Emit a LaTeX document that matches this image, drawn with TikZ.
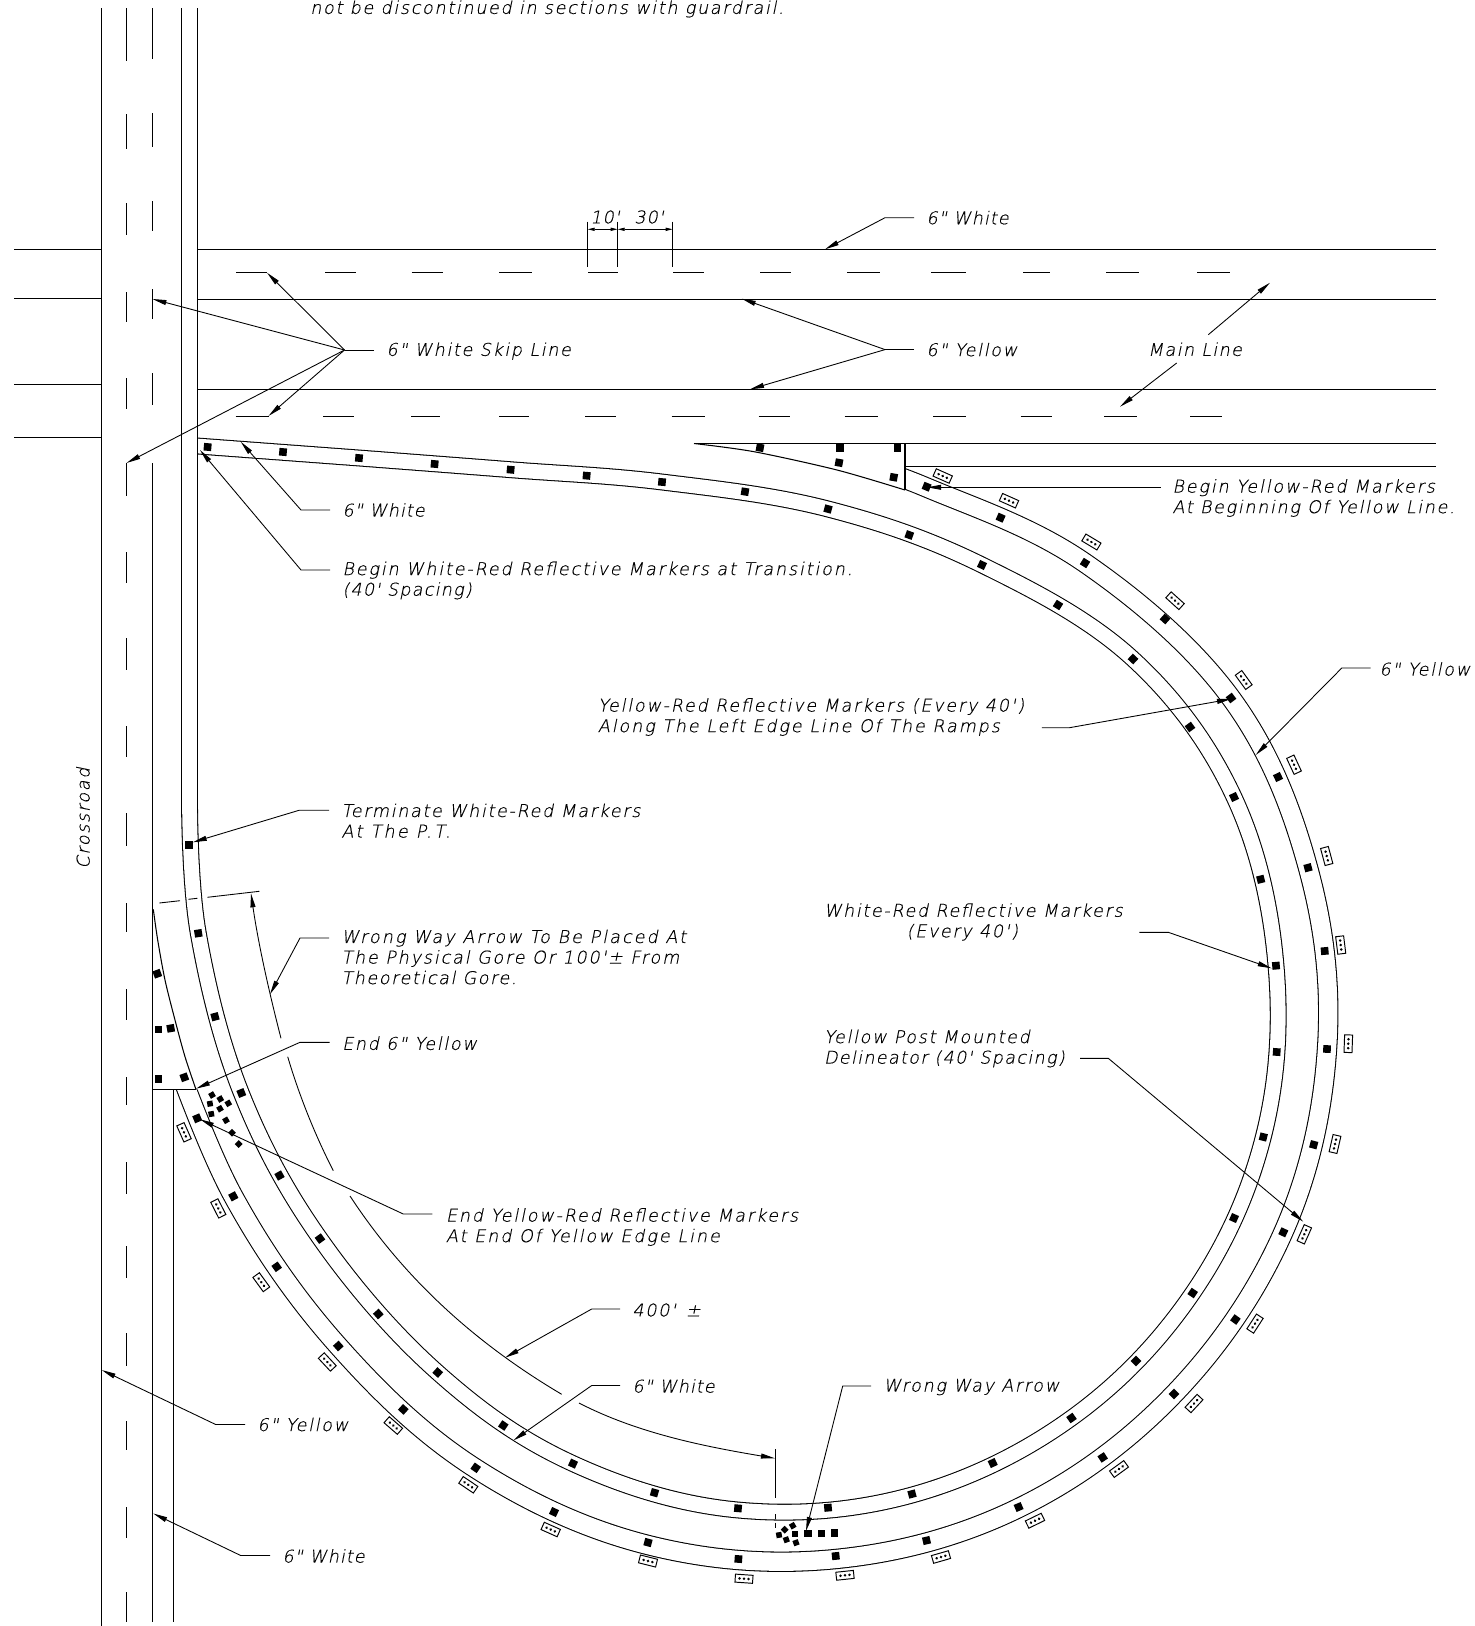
\documentclass[tikz,border=0pt]{standalone}
\usepackage{fontspec}
\usetikzlibrary{arrows.meta}
\newfontfamily\cadfont[FakeSlant=0.2,FakeBold=0.3,LetterSpace=9.5]{DejaVu Sans ExtraLight}
\newfontfamily\cadtight[FakeSlant=0.2,FakeBold=0.3,LetterSpace=6]{DejaVu Sans ExtraLight}
\def\ls#1{\addfontfeature{LetterSpace=#1}}
\def\reflmark(#1,#2,#3){\fill[shift={(#1,#2)},rotate=#3] (-3.8,-3.8) rectangle (3.8,3.8);}
\def\smallmark(#1,#2,#3){\fill[shift={(#1,#2)},rotate=#3] (-2.8,-2.8) rectangle (2.8,2.8);}
\def\postmark(#1,#2,#3){\begin{scope}[shift={(#1,#2)},rotate=#3]
	\draw[line width=0.55pt] (-8.8,-4) rectangle (8.8,4);
	\fill (-4.5,0) circle (1.4); \fill (0,0) circle (1.4); \fill (4.5,0) circle (1.4);
\end{scope}}
\tikzset{
	road/.style={line width=0.6pt},
	inpair/.style={line width=0.6pt,double=white,double distance=8.4pt},
	outpair/.style={line width=0.6pt,double=white,double distance=10.4pt},
	thinline/.style={line width=0.5pt},
	leader/.style={line width=0.5pt,-{Triangle[length=8pt,width=2.8pt]}},
	dimtick/.style={line width=0.5pt,{Triangle[length=4pt,width=1.8pt]}-{Triangle[length=4pt,width=1.8pt]}},
	lbl/.style={anchor=west,inner ysep=0pt,inner xsep=6.9pt,align=left,font=\cadfont\fontsize{10}{11.7}\selectfont},
	lbltight/.style={lbl,font=\cadtight\fontsize{10}{11.7}\selectfont},
	note/.style={inner sep=0pt,font=\cadfont\fontsize{10}{11.7}\selectfont}
}
\begin{document}
\begin{tikzpicture}[x=0.02cm,y=-0.02cm]
			\useasboundingbox (0,0) rectangle (1474,1626);
			%%%%% RAMPS %%%%%
			
			\draw[inpair] (189.5,8) -- (189.5,800) -- plot[smooth,tension=0.62] coordinates {(189.5,800) (198.3,933.3) (241.3,1093) (320,1238.6) (437.7,1372.5) (573,1463.6) (738,1510) (912,1495) (1071.5,1418) (1192.7,1293) (1263.3,1137) (1276,965.7) (1234,797) (1133,659) (982,565) (828,509) (662,482) (510.6,469.7) (359,458)} -- (197.5,446);
			
			\begin{scope}
				\clip (905,460) -- (1474,460) -- (1474,1626) -- (150,1626) -- (150,1089.3) -- (905,1089.3) -- cycle;
				\draw[outpair] plot[smooth,tension=0.62] coordinates {(810,447) (926.6,487.5) (1085,563) (1231,698) (1308,867.7) (1327,1049) (1283.3,1232.3) (1174,1394) (1018.6,1508) (835.7,1559) (648,1545) (475.7,1468.5) (338.3,1346) (233.3,1196.3) (165,1030)};
			\end{scope}
			
			\draw[road] plot[smooth] coordinates {(153.3,909.3) (157.7,940) (165,980) (175,1020) (185,1056.7) (196,1089.5)};
			\draw[road] plot[smooth] coordinates {(694,443.5) (754,451.7) (837,470) (905,490)};
			
			%%%%% ROADS %%%%%
			
			\draw[road] (101.5,8) -- (101.5,1626);
			\draw[road] (197.5,430) -- (197.5,460);
			\draw[road] (152.5,463) -- (152.5,1622);
			\draw[road] (173.5,1089.5) -- (173.5,1622);
			\draw[road] (153.3,1089.5) -- (196,1089.5);
			\draw[road] (905,443.5) -- (905,490);
			\draw[road] (694,443.5) -- (1436,443.5);
			\draw[road] (905,466.5) -- (1436,466.5);
			
			\draw[road] (197.5,249.5) -- (1436,249.5);
			\draw[road] (197.5,299.5) -- (1436,299.5);
			\draw[road] (197.5,389.5) -- (1436,389.5);
			\draw[road] (14,249.5) -- (101.5,249.5);
			\draw[road] (14,298.5) -- (101.5,298.5);
			\draw[road] (14,384.5) -- (101.5,384.5);
			\draw[road] (14,437.5) -- (101.5,437.5);
			
			\foreach \a/\b in {8/61,114/149,203/235,292/322,378/409,463/496,552/583,638/670,726/757,813/846,903/932,989/1020,1077/1105,1162/1194,1246/1278,1333/1366,1421/1450,1507/1538,1592/1622}
				\draw[road] (126.5,\a) -- (126.5,\b);
			\foreach \a/\b in {8/59,113/147,201/231,289/319,373/405}
				\draw[road] (152.5,\a) -- (152.5,\b);
			\foreach \a/\b in {236/267,325/356,411.5/443,499/532,588/617.5,673/703.6,760/791,847/880,931/966,1023/1050,1106/1138.7,1197/1229.7}
				\draw[road] (\a,272.5) -- (\b,272.5);
			\foreach \a/\b in {235.5/268.5,323/354.4,411/440,499/529,585/616,671.5/705,758.6/790,844.7/878,933/966,1020.5/1052,1104/1136.7,1190/1221.7}
				\draw[road] (\a,416.5) -- (\b,416.5);
			
			%%%%% MARKERS %%%%%
			
			\foreach \x/\y/\r in {189/845/0,198.3/933.3/9,215/1016.7/15,241.3/1093/22,279.5/1175.5/29,320/1238.6/36,378.3/1314/42,437.7/1372.5/48,503.3/1425.5/-34,573/1463.6/-25,654.5/1492.7/-16,738/1508.3/-5,828/1507.7/5,912/1494/15,992.7/1463/25,1071.5/1418/35,1136/1361/46,1192.7/1293/56,1234/1218/66,1263.3/1137/76,1276.7/1052/86,1276/965.7/95,1260.7/879.3/104,1234/797/115,1190/727/126,1133/659/137,1058/605/148,982/565/155,909.3/535/160,828/509/165,745/491.7/171,662/482/-5,586.6/475.7/-5,510.6/469.7/-5,434.6/464/-5,359/458/-5,283/452/-5,207.6/447/-5}
				{\reflmark(\x,\y,\r)}
			\foreach \x/\y/\r in {926.6/486.7/-22,1000.6/517.7/-24,1085/563/-32,1165/619/-42,1231/698/-53,1278/777/-64,1308/867.7/-75,1324.7/951/-85,1327/1049/88,1313.7/1144.7/75,1283.3/1232.3/65,1235.4/1319.5/54,1174/1394/44,1102.7/1457.4/33,1018.6/1507/23,926.5/1540.5/13,835.7/1556/6,738.4/1559/-4,648/1542.5/-15,554/1512/-25,475.7/1467.8/-35,403.3/1409.4/-42,338.3/1346/-48,276.7/1266.8/-55,233.3/1196.3/-62,197.2/1118.3/-67}
				{\reflmark(\x,\y,\r)}
			\foreach \x/\y/\r in {157.3/973.7/20,158.3/1029.3/0,170.7/1028.3/10,158.3/1079/0,184.3/1077.3/20,760/447.7/-10,840/447.7/0,897.3/447.7/0,839/462.7/-10,893.7/477.3/-10,807.7/1533.3/0,821.3/1533.3/0,834.3/1532.7/0}
				{\reflmark(\x,\y,\r)}
			\foreach \x/\y/\r in {212/1095/30,220.3/1099/30,228.3/1103.3/30,210/1103.7/10,220/1108.7/30,211.3/1114/10,226/1120.3/30,232/1132.7/45,238.7/1144/45,779/1535/10,784.7/1529.7/45,792.7/1525.7/30,795/1533.7/0,786.3/1539.7/20,796/1542.7/20}
				{\smallmark(\x,\y,\r)}
			\foreach \x/\y/\r in {942.7/476/-24,1009/500.7/-24,1091.4/542/-31,1175/600.7/-42,1243.7/680/-54,1294/764.7/-65,1326.7/856/-75,1340.7/945/-83,1348.3/1043.7/88,1335/1144/77,1304.3/1234.3/66,1255/1323.6/57,1194/1403.5/47,1119/1469/36,1035/1520.7/26,941/1557/16,845/1575.3/6,744/1578.7/-4,648/1561/-14,550.7/1529.5/-24,468.3/1484.8/-34,393.3/1425.5/-41,327.3/1362/-47,261.3/1282.2/-54,218.3/1208.4/-63,184/1132.3/-66}
				{\postmark(\x,\y,\r)}
			
			%%%%% DIMENSIONS %%%%%
			
			\draw[thinline] (587.7,221.7) -- (587.7,266.7);
			\draw[thinline] (617.7,221.7) -- (617.7,266.7);
			\draw[thinline] (672.7,221.7) -- (672.7,266.7);
			\draw[dimtick] (587.7,229.3) -- (617.7,229.3);
			\draw[dimtick] (617.7,229.3) -- (672.7,229.3);
			\node[note,font=\cadtight\fontsize{10}{11.7}\selectfont] (dimten) at (605,217) {10'};
			\node[note,font=\cadtight\fontsize{10}{11.7}\selectfont] (dimthirty) at (649,217) {30'};
			
			\draw[thinline] (159.3,903) -- (180,900.7);
			\draw[thinline] (188.3,899.3) -- (197.3,898.3);
			\draw[thinline] (207.3,897.3) -- (259.3,891.3);
			\draw[thinline] (775.3,1449.3) -- (775.3,1497.7);
			\draw[thinline] (775.3,1514.3) -- (775.3,1519.3);
			\draw[thinline] (775.3,1522.7) -- (775.3,1528.3);
			
			\draw[leader] (281,1038.3) .. controls (268.7,990.7) and (258,942) .. (251,893.3);
			\draw[thinline] (287.7,1056.7) .. controls (299,1095) and (315,1135) .. (333.3,1170.7);
			\draw[thinline] (350,1196) .. controls (405,1280) and (476.7,1344) .. (561.7,1394.3);
			\draw[leader] (579,1403) .. controls (639,1434) and (708,1447) .. (775,1458.3);
			
			%%%%% LABELS %%%%%
			
			\node[note,anchor=west] (topnote) at (310,9) {not be discontinued in sections with guardrail.};
			\node[note,rotate=90] (crossroad) at (83,818) {Crossroad};
			
			\node[lbltight] (whitetop) at (914,217.7) {6" White};
			\coordinate (whitetopbend) at (885,217.7);
			\coordinate (whitetoptip) at (825,249.3);
			\draw[leader] (whitetop.west) -- (whitetopbend) -- (whitetoptip);
			
			\node[lbl] (skipline) at (374,351) {6" White Skip Line};
			\coordinate (skipbend) at (344.5,350);
			\coordinate (skiptipa) at (267,272.7);
			\coordinate (skiptipb) at (152.4,299);
			\coordinate (skiptipc) at (268.5,416);
			\coordinate (skiptipd) at (126.5,463);
			\draw[thinline] (374,350) -- (skipbend);
			\draw[leader] (skipbend) -- (skiptipa);
			\draw[leader] (skipbend) -- (skiptipb);
			\draw[leader] (skipbend) -- (skiptipc);
			\draw[leader] (skipbend) -- (skiptipd);
			
			\node[lbl] (yellowmid) at (914,349.6) {6" Yellow};
			\coordinate (yellowbend) at (885,349.6);
			\coordinate (yellowtipa) at (741.7,298.7);
			\coordinate (yellowtipb) at (750,389.3);
			\draw[thinline] (yellowmid.west) -- (yellowbend);
			\draw[leader] (yellowbend) -- (yellowtipa);
			\draw[leader] (yellowbend) -- (yellowtipb);
			
			\node[note] (mainline) at (1195,349.3) {\ls{8}Main Line};
			\coordinate (mainfroma) at (1208.3,334.7);
			\coordinate (maintipa) at (1270,282.7);
			\coordinate (mainfromb) at (1176.7,363);
			\coordinate (maintipb) at (1120,406.7);
			\draw[leader] (mainfroma) -- (maintipa);
			\draw[leader] (mainfromb) -- (maintipb);
			
			\node[lbltight] (whitetail) at (330,510) {6" White};
			\coordinate (whitetailbend) at (301,510);
			\coordinate (whitetailtip) at (240.7,441.7);
			\draw[leader] (whitetail.west) -- (whitetailbend) -- (whitetailtip);
			
			\node[lbl] (beginwhite) at (330,580.5) {\ls{10.5}Begin White-Red Reflective Markers at Transition.\\\ls{7}(40' Spacing)};
			\coordinate (beginwhitefrom) at (330,570);
			\coordinate (beginwhitebend) at (301,570);
			\coordinate (beginwhitetip) at (200,450);
			\draw[leader] (beginwhitefrom) -- (beginwhitebend) -- (beginwhitetip);
			
			\node[lbl] (beginyellow) at (1160,498) {\ls{10.5}Begin Yellow-Red Markers\\\ls{9.5}At Beginning Of Yellow Line.};
			\coordinate (beginyellowfrom) at (1160.8,487.3);
			\coordinate (beginyellowtip) at (927,487.3);
			\draw[leader] (beginyellowfrom) -- (beginyellowtip);
			
			\node[lbl] (yellowright) at (1367,669) {6" Yellow};
			\coordinate (yellowrightbend) at (1341.8,668);
			\coordinate (yellowrighttip) at (1255.7,755);
			\draw[leader] (1370.5,668) -- (yellowrightbend) -- (yellowrighttip);
			
			\node[lbl,inner xsep=0pt] (alongleft) at (597.5,717) {\ls{10.2}Yellow-Red Reflective Markers (Every 40')\\\ls{10.8}Along The Left Edge Line Of The Ramps};
			\coordinate (alongleftfrom) at (1041.8,727.7);
			\coordinate (alongleftbend) at (1069.5,727.7);
			\coordinate (alonglefttip) at (1231,699);
			\draw[leader] (alongleftfrom) -- (alongleftbend) -- (alonglefttip);
			
			\node[lbl] (terminate) at (329,820.7) {Terminate White-Red Markers\\\ls{13.5}At The P.T.};
			\coordinate (terminatefrom) at (329,810.3);
			\coordinate (terminatebend) at (299,810.3);
			\coordinate (terminatetip) at (192.7,842.3);
			\draw[leader] (terminatefrom) -- (terminatebend) -- (terminatetip);
			
			\node[lbl] (wrongplaced) at (329,957) {\ls{11.7}Wrong Way Arrow To Be Placed At\\\ls{10.5}The Physical Gore Or 100'± From\\\ls{9}Theoretical Gore.};
			\coordinate (wrongplacedfrom) at (329,938);
			\coordinate (wrongplacedbend) at (300,938);
			\coordinate (wrongplacedtip) at (270,994.3);
			\draw[leader] (wrongplacedfrom) -- (wrongplacedbend) -- (wrongplacedtip);
			
			\node[lbl] (endyellow) at (329.7,1043.3) {End 6" Yellow};
			\coordinate (endyellowbend) at (300,1042.3);
			\coordinate (endyellowtip) at (196,1088.7);
			\draw[leader] (329.7,1042.3) -- (endyellowbend) -- (endyellowtip);
			
			\node[lbl,inner xsep=0pt] (whitered) at (823.7,922) {White-Red Reflective Markers\\\hspace*{47pt}(Every 40')};
			\coordinate (whiteredfrom) at (1139.3,932.3);
			\coordinate (whiteredbend) at (1168.3,932.3);
			\coordinate (whiteredtip) at (1271.7,968.3);
			\draw[leader] (whiteredfrom) -- (whiteredbend) -- (whiteredtip);
			
			\node[lbl,inner xsep=0pt] (postmounted) at (823.7,1048.5) {Yellow Post Mounted\\\ls{7.5}Delineator (40' Spacing)};
			\coordinate (postmountedfrom) at (1080,1058.3);
			\coordinate (postmountedbend) at (1108.3,1058.3);
			\coordinate (postmountedtip) at (1303.3,1221.7);
			\draw[leader] (postmountedfrom) -- (postmountedbend) -- (postmountedtip);
			
			\node[lbl] (endmarkers) at (433.5,1227) {\ls{10.5}End Yellow-Red Reflective Markers\\\ls{11.3}At End Of Yellow Edge Line};
			\coordinate (endmarkersfrom) at (432.3,1214);
			\coordinate (endmarkersbend) at (403.3,1214);
			\coordinate (endmarkerstip) at (200,1119.3);
			\draw[leader] (endmarkersfrom) -- (endmarkersbend) -- (endmarkerstip);
			
			\node[lbl] (fourhundred) at (620,1310) {400' \,±};
			\coordinate (fourhundredbend) at (591.7,1309);
			\coordinate (fourhundredtip) at (505,1357.7);
			\draw[leader] (620,1309) -- (fourhundredbend) -- (fourhundredtip);
			
			\node[lbltight] (whitelow) at (620,1386) {6" White};
			\coordinate (whitelowbend) at (591.7,1385.5);
			\coordinate (whitelowtip) at (513.3,1440.5);
			\draw[leader] (620,1385.5) -- (whitelowbend) -- (whitelowtip);
			
			\node[lbl] (wrongarrow) at (871,1387) {Wrong Way Arrow};
			\coordinate (wrongarrowbend) at (842.7,1386);
			\coordinate (wrongarrowtip) at (806,1531);
			\draw[leader] (871,1386) -- (wrongarrowbend) -- (wrongarrowtip);
			
			\node[lbl] (yellowlow) at (245,1424.5) {6" Yellow};
			\coordinate (yellowlowbend) at (215.7,1424.5);
			\coordinate (yellowlowtip) at (101.7,1370);
			\draw[leader] (yellowlow.west) -- (yellowlowbend) -- (yellowlowtip);
			
			\node[lbltight] (whitebottom) at (270,1556) {6" White};
			\coordinate (whitebottombend) at (240.7,1555.5);
			\coordinate (whitebottomtip) at (153.3,1513.5);
			\draw[leader] (270,1555.5) -- (whitebottombend) -- (whitebottomtip);
			
			%%%%% END %%%%%
		\end{tikzpicture}
\end{document}
